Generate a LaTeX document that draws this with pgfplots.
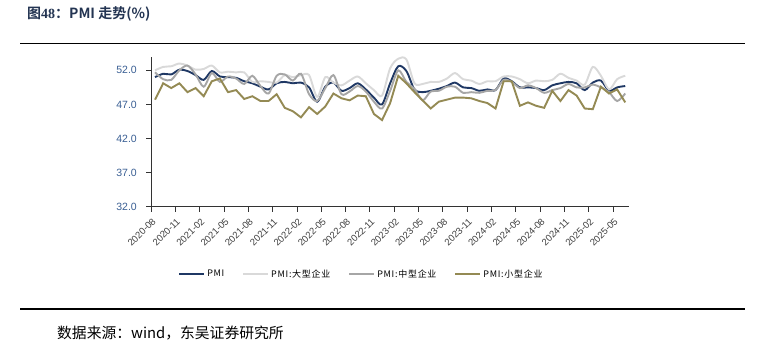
\documentclass[border=0pt]{standalone}
\usepackage{pgfplots}
\usepackage{pgfplotstable}
\pgfplotsset{compat=1.18}
\usepackage{fontspec}
\setmainfont{Liberation Sans}
\newfontfamily\cjk[BoldFont={* Bold}]{Noto Sans CJK SC}
\newfontfamily\legfont[LetterSpace=8]{Noto Sans CJK SC}
\newfontfamily\serifb{Liberation Serif}

\definecolor{cPMI}{RGB}{31,56,100}
\definecolor{cLarge}{RGB}{217,217,217}
\definecolor{cMid}{RGB}{166,166,166}
\definecolor{cSmall}{RGB}{148,138,84}
\definecolor{cTitle}{RGB}{35,52,82}
\definecolor{cYlab}{RGB}{58,95,148}
\definecolor{cXlab}{RGB}{64,64,64}

\pgfplotstableread{
x pmi large mid small
0 51.0 52.0 51.7 47.7
1 51.5 52.5 50.7 50.1
2 51.4 52.6 50.6 49.4
3 52.1 53.0 52.0 50.1
4 51.9 52.7 52.7 48.8
5 51.3 52.1 51.4 49.4
6 50.6 52.2 49.6 48.2
7 51.9 52.7 51.6 50.4
8 51.1 51.7 50.3 50.8
9 51.0 51.8 51.1 48.8
10 50.9 51.7 50.8 49.1
11 50.4 51.7 50.0 47.8
12 50.1 50.3 51.2 48.2
13 49.6 50.4 49.7 47.5
14 49.2 50.3 48.6 47.5
15 50.1 50.2 51.2 48.5
16 50.3 51.3 51.4 46.5
17 50.1 51.0 50.5 46.0
18 50.2 51.3 51.5 45.1
19 49.5 51.3 48.5 46.6
20 47.4 48.1 47.5 45.6
21 49.6 51.0 49.4 46.7
22 50.2 50.2 51.3 48.6
23 49.0 49.8 48.5 47.9
24 49.4 50.5 48.9 47.6
25 50.1 51.1 49.7 48.3
26 49.2 50.1 48.9 48.2
27 48.0 49.1 47.4 45.6
28 47.0 48.3 46.4 44.7
29 50.1 52.3 49.0 47.2
30 52.6 53.7 52.0 51.2
31 51.9 53.6 50.3 50.1
32 49.2 50.1 49.3 48.8
33 48.8 50.0 47.6 47.6
34 49.0 50.3 48.9 46.4
35 49.3 50.3 49.0 47.4
36 49.7 50.8 49.6 47.7
37 50.2 51.6 49.6 48.0
38 49.5 50.7 48.7 48.0
39 49.4 50.5 48.8 47.9
40 49.0 50.0 48.7 47.5
41 49.2 50.4 49.0 47.2
42 49.1 50.4 49.1 46.4
43 50.8 51.1 50.6 50.4
44 50.4 51.1 50.3 50.4
45 49.5 50.7 49.4 46.8
46 49.5 50.1 49.8 47.3
47 49.4 50.5 49.4 46.8
48 49.1 50.4 48.7 46.5
49 49.8 50.6 49.1 49.0
50 50.1 51.5 49.4 47.5
51 50.3 50.9 50.0 49.1
52 50.1 50.5 49.5 48.3
53 49.1 49.9 49.5 46.4
54 50.2 52.5 49.9 46.3
55 50.5 51.2 49.5 49.6
56 49.0 49.2 48.8 48.6
57 49.5 50.7 47.5 49.2
58 49.7 51.2 48.6 47.3
}\pmidata

\begin{document}
\begin{tikzpicture}
\path[use as bounding box, fill=white] (0,0) rectangle (765bp,351bp);

% title
\node[anchor=west, inner sep=0pt, text=cTitle] at (27bp,337.5bp)
  {\cjk\bfseries\fontsize{14bp}{16bp}\selectfont 图{\serifb\bfseries 48}：PMI 走势(\%)};
\draw[line width=1.8bp, black] (20bp,307.5bp) -- (745bp,307.5bp);
\draw[line width=1.8bp, black] (20bp,42bp) -- (745bp,42bp);
\node[anchor=west, inner sep=0pt] at (57bp,18.3bp)
  {\cjk\fontsize{14.8bp}{16bp}\selectfont 数据来源：wind，东吴证券研究所};

\begin{axis}[
  at={(151bp,144.3bp)}, anchor=south west,
  scale only axis, width=478.3bp, height=150bp,
  xmin=-0.5, xmax=58.5, ymin=32, ymax=54,
  axis lines*=left,
  axis line style={black!80, line width=0.8bp},
  tick align=outside,
  major tick length=5bp,
  tick style={black!80, line width=0.8bp},
  xtick={-0.5,2.5,...,56.5},
  xticklabels={2020-08,2020-11,2021-02,2021-05,2021-08,2021-11,2022-02,2022-05,2022-08,2022-11,2023-02,2023-05,2023-08,2023-11,2024-02,2024-05,2024-08,2024-11,2025-02,2025-05},
  ytick={32,37,42,47,52},
  yticklabel style={/pgf/number format/.cd, fixed, fixed zerofill, precision=1, assume math mode=true, /tikz/.cd, font=\fontsize{10.5bp}{12bp}\selectfont, text=cYlab, inner sep=1bp, xshift=-8bp},
  xticklabel style={rotate=45, anchor=east, font=\fontsize{9.5bp}{10bp}\selectfont, text=cXlab, inner sep=0.5bp, yshift=-8bp, xshift=-3bp},
  legend style={at={(0.44,-0.449)}, anchor=center, draw=none, fill=none,
    legend columns=4, font=\legfont\fontsize{9bp}{10bp}\selectfont,
    /tikz/every even column/.append style={column sep=16bp},
    inner sep=0pt},
  legend image code/.code={\draw[#1] (0bp,0bp) -- (25bp,0bp);},
  every axis plot/.append style={line width=1.9bp},
  clip=false,
]
\addplot[cPMI, smooth, tension=0.5] table[x=x, y=pmi] {\pmidata};
\addlegendentry{PMI}
\addplot[cLarge, smooth, tension=0.5] table[x=x, y=large] {\pmidata};
\addlegendentry{PMI:大型企业}
\addplot[cMid, smooth, tension=0.5] table[x=x, y=mid] {\pmidata};
\addlegendentry{PMI:中型企业}
\addplot[cSmall] table[x=x, y=small] {\pmidata};
\addlegendentry{PMI:小型企业}
\end{axis}
\end{tikzpicture}
\end{document}
